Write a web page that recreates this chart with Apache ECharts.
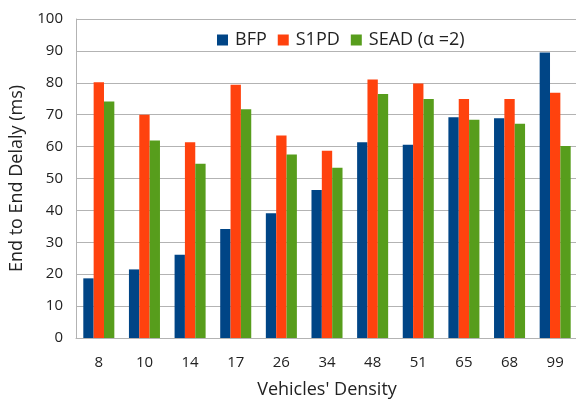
<!DOCTYPE html>
<html>
<head>
<meta charset="utf-8">
<script src="https://cdn.jsdelivr.net/npm/echarts@6/dist/echarts.min.js"></script>
<style>
    html, body { margin: 0; padding: 0; background: #fff; }
    #chart { width: 576px; height: 401px; }
</style>
</head>
<body>
<div id="chart"></div>
<script>
    // vehicles' density on x, delay in ms on y
    const densities = ['8', '10', '14', '17', '26', '34', '48', '51', '65', '68', '99'];
    const bfp = [18.7, 21.5, 26.1, 34.2, 39.1, 46.4, 61.4, 60.6, 69.2, 68.9, 89.5];
    const s1pd = [80.2, 70, 61.4, 79.4, 63.5, 58.7, 81, 79.8, 74.9, 74.9, 76.9];
    const sead = [74.1, 61.9, 54.6, 71.7, 57.5, 53.4, 76.5, 74.9, 68.4, 67.2, 60.2];
    const yTicks = [0, 10, 20, 30, 40, 50, 60, 70, 80, 90, 100];

    const font = 'Open Sans';
    let chart = echarts.init(document.getElementById('chart'));

    function bar(name, data, color) {
        return {
            name: name,
            type: 'bar',
            data: data,
            barGap: '0%',
            barCategoryGap: '32%',
            itemStyle: { color: color },
            emphasis: { disabled: true }
        };
    }

    let option = {
        animation: false,
        textStyle: { fontFamily: font },
        grid: {
            left: 76,
            top: 19,
            width: 502,
            bottom: 63,
            outerBoundsMode: 'none',
            containLabel: false
        },
        legend: {
            top: 26,
            left: 212,
            itemWidth: 11,
            itemHeight: 11,
            itemGap: 11,
            icon: 'rect',
            textStyle: { fontFamily: font, fontSize: 18, color: '#222', padding: [0, 0, 0, 2] },
            data: ['BFP', 'S1PD', 'SEAD (α =2)']
        },
        xAxis: {
            type: 'category',
            data: densities,
            name: "Vehicles' Density",
            nameLocation: 'middle',
            nameGap: 43,
            nameTextStyle: { fontSize: 18, color: '#222', fontFamily: font },
            axisLine: { lineStyle: { color: '#b3b3b3' } },
            axisTick: { show: false },
            axisLabel: { fontSize: 15, color: '#222', margin: 17 }
        },
        yAxis: {
            type: 'value',
            min: yTicks[0],
            max: yTicks[yTicks.length - 1],
            interval: 10,
            name: 'End to End Delaly (ms)',
            nameLocation: 'middle',
            nameGap: 50,
            nameTextStyle: { fontSize: 18, color: '#222', fontFamily: font },
            axisLine: { show: true, lineStyle: { color: '#b3b3b3' } },
            axisTick: { show: false },
            axisLabel: { fontSize: 15, color: '#222', margin: 13 },
            splitLine: { lineStyle: { color: '#b3b3b3' } }
        },
        series: [
            bar('BFP', bfp, '#004586'),
            bar('S1PD', s1pd, '#ff420e'),
            bar('SEAD (α =2)', sead, '#579d1c')
        ]
    };
    chart.setOption(option);
</script>
</body>
</html>
